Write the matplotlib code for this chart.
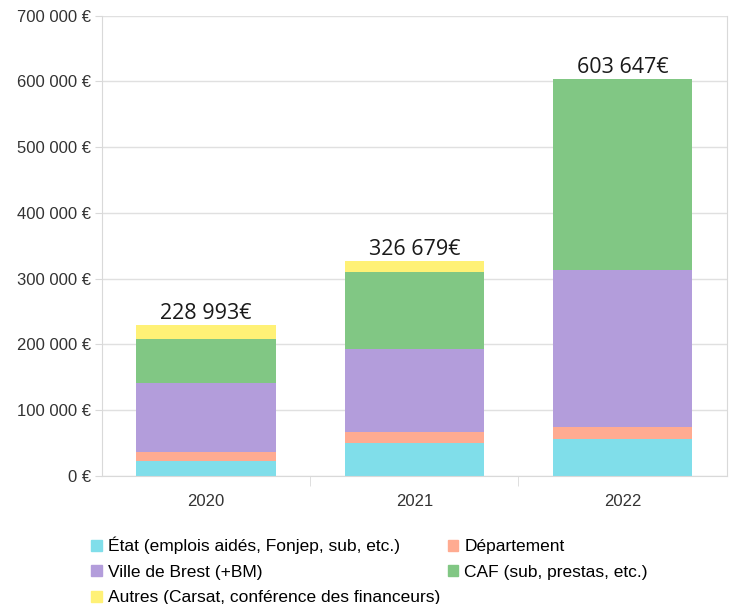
import matplotlib.pyplot as plt
from matplotlib.patches import Patch
from matplotlib.ticker import FuncFormatter

years = ["2020", "2021", "2022"]
etat = [22400, 49300, 55400]
departement = [13700, 16800, 18300]
ville = [104500, 126300, 239400]
caf = [67900, 118100, 290547]
autres = [20493, 16179, 0]
totals = ["228 993€", "326 679€", "603 647€"]

series = [
    ("État (emplois aidés, Fonjep, sub, etc.)", etat, "#80deea"),
    ("Département", departement, "#ffab91"),
    ("Ville de Brest (+BM)", ville, "#b39ddb"),
    ("CAF (sub, prestas, etc.)", caf, "#81c784"),
    ("Autres (Carsat, conférence des financeurs)", autres, "#fff176"),
]

plt.rcParams["font.family"] = ["Liberation Sans", "DejaVu Sans"]

fig = plt.figure(figsize=(7.31, 6.04), dpi=100)
ax = fig.add_axes([0.1395, 0.2124, 0.8545, 0.7616])

x = list(range(len(years)))
bottom = [0] * len(years)
handles = {}
for label, values, color in series:
    ax.bar(x, values, width=0.67, bottom=bottom, color=color, zorder=2)
    handles[label] = Patch(color=color, label=label)
    bottom = [b + v for b, v in zip(bottom, values)]

for xi, top, text in zip(x, bottom, totals):
    ax.annotate(text, (xi, top), xytext=(0, 1), textcoords="offset points",
                ha="center", va="bottom", fontsize=15.5, color="#1a1a1a",
                family=["Open Sans", "DejaVu Sans"])

ax.set_xlim(-0.5, 2.5)
ax.set_ylim(0, 700000)
ax.set_yticks(range(0, 700001, 100000))
ax.yaxis.set_major_formatter(FuncFormatter(
    lambda v, p: "{:,.0f} €".format(v).replace(",", " ")))
ax.set_xticks(x)
ax.set_xticklabels(years)
ax.set_xticks([0.5, 1.5], minor=True)

ax.grid(axis="y", color="#e0e0e0", linewidth=1, zorder=0)
for side in ["left", "right", "bottom"]:
    ax.spines[side].set_color("#d9d9d9")
ax.spines["top"].set_visible(False)
ax.tick_params(axis="y", length=5, color="#d9d9d9", labelsize=12,
               labelcolor="#333333", pad=3)
ax.tick_params(axis="x", which="major", length=0, labelsize=12,
               labelcolor="#333333", pad=13)
ax.tick_params(axis="x", which="minor", length=7, color="#d9d9d9")

order = [series[0][0], series[2][0], series[4][0], series[1][0], series[3][0]]
fig.legend(handles=[handles[k] for k in order], ncol=2,
           loc="upper left", bbox_to_anchor=(0.125, 0.111),
           frameon=False, fontsize=12.5, handlelength=0.6, handleheight=0.6,
           handletextpad=0.35, columnspacing=0.45, labelspacing=0.6,
           borderpad=0, borderaxespad=0)

fig.savefig("out.png", dpi=100)
